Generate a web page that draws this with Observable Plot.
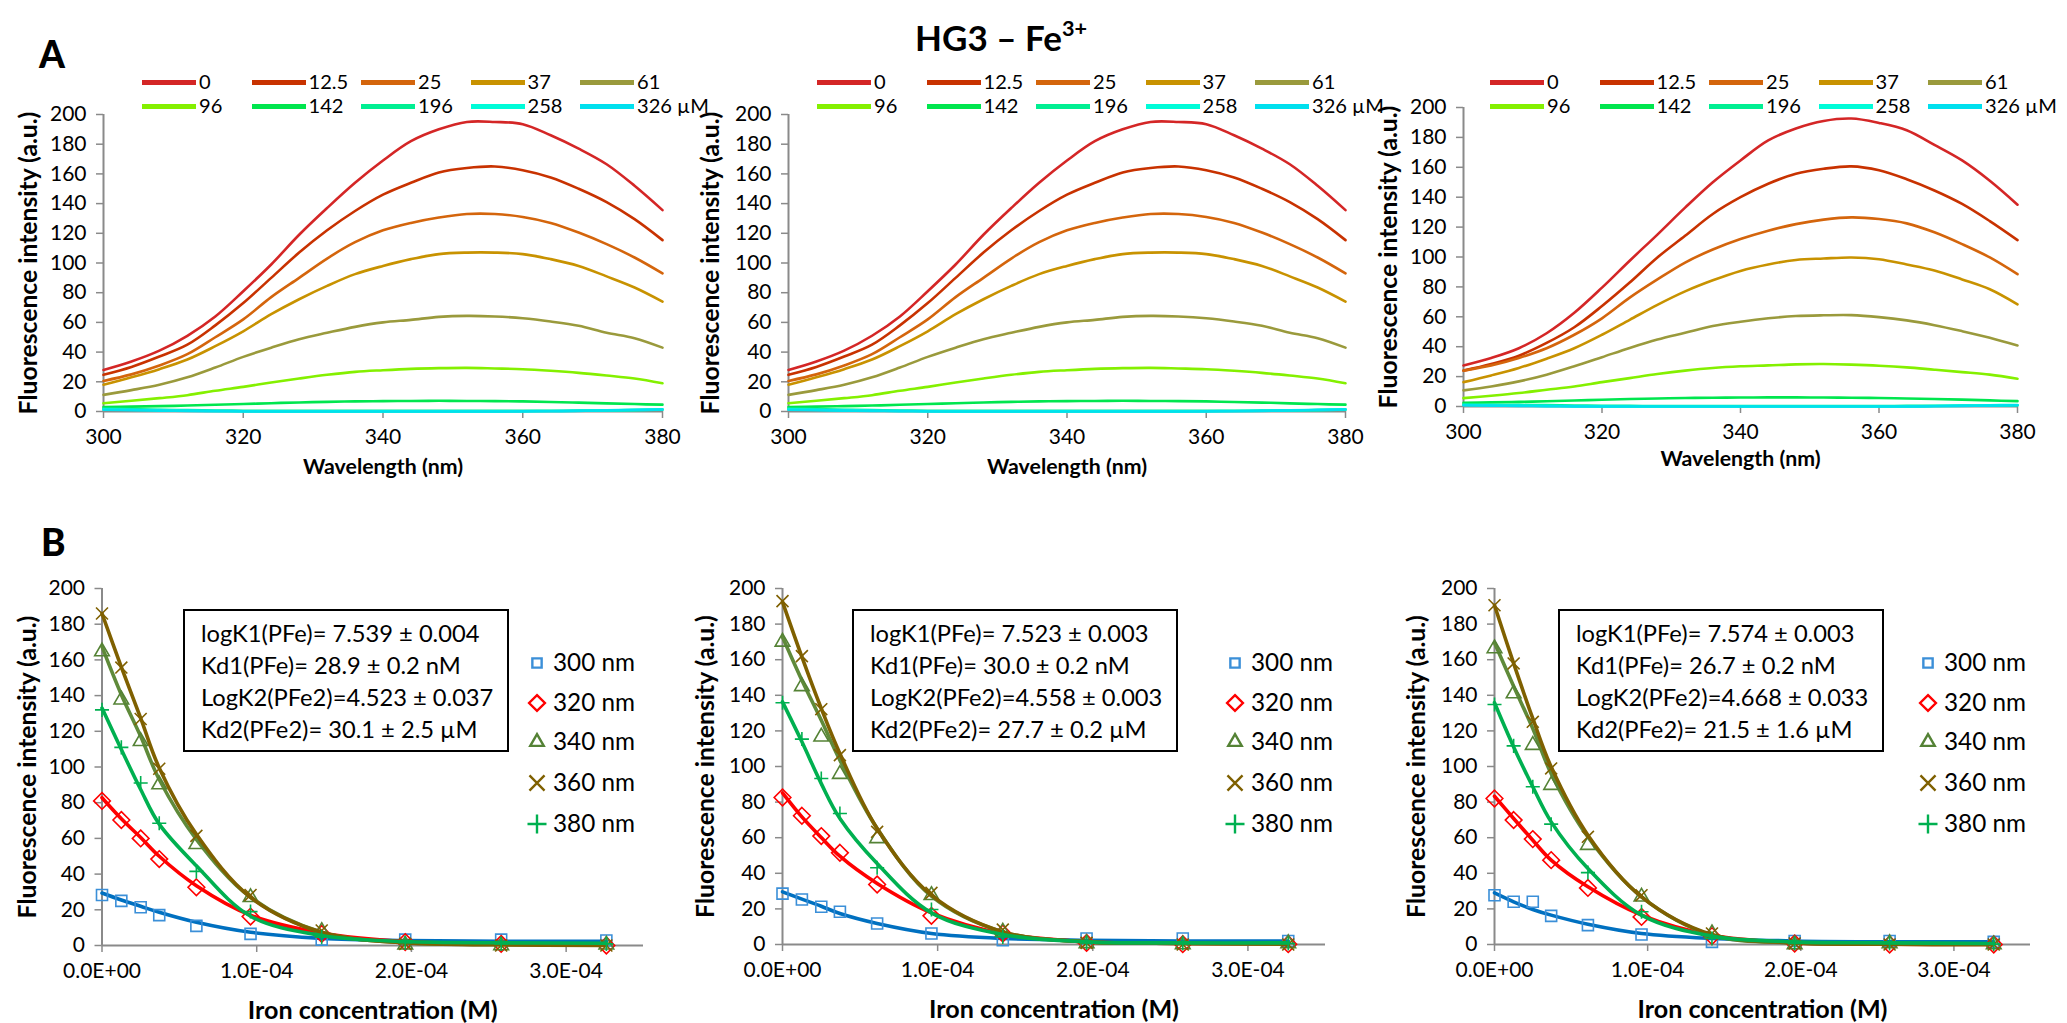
<!DOCTYPE html>
<html><head><meta charset="utf-8">
<script src="https://cdn.jsdelivr.net/npm/d3@7"></script>
<script src="https://cdn.jsdelivr.net/npm/@observablehq/plot@0.6"></script>
<style>
body{margin:0;background:#fff;font-family:Lato,sans-serif;color:#000;}
#root{position:relative;width:2067px;height:1023px;overflow:hidden;background:#fff;}
.abs{position:absolute;white-space:nowrap;}
.box{position:absolute;border:2px solid #000;box-sizing:border-box;line-height:32px;white-space:nowrap;}
</style></head><body><div id="root"></div>
<script>
// ---------- DATA ----------
const WL = [300,304,308,312,316,320,324,328,332,336,340,344,348,352,356,360,364,368,372,376,380];
const WL_TICKS = [300,320,340,360,380];
const Y_TICKS = [0,20,40,60,80,100,120,140,160,180,200];
const CONC_LABELS = ["0","12.5","25","37","61","96","142","196","258","326 µM"];
const SPEC_COLORS = ["#d42626","#c83200","#d4650c","#c89200","#9a9a3c","#84f000","#00e64e","#00ef92","#00fcd8","#00e0ee"];

// Panel A1 spectra (one array per Fe concentration)
const A1_0   = [28,33.7,41,51,64,81,99,119,137,154,169,182,190,195,195,193.5,186,177,166.5,152,135.6];
const A1_12  = [24.7,30,37,45,58,73,90,107,122,135,146,154,161,164,165,162.5,157.6,150,141,129.5,115.4];
const A1_25  = [20.6,25,31,38.6,50,62,77,90,103,114,122,127,130.6,133,133,131,127,120.5,112.7,103.7,93];
const A1_37  = [18,23,28.5,35,44,54,65.5,75.6,84.6,92.5,98,102.6,106,107,107,106,102.6,98,91,83.5,74];
const A1_61  = [11.2,14.4,18,23,29.6,36.8,43,48.7,53,57,60,61.7,63.7,64.4,64,62.8,60.6,57.7,53,49.4,43];
const A1_96  = [5.6,7.2,9,11,14,16.6,19.5,22.2,24.7,26.7,27.8,28.7,29.2,29.4,29,28.5,27.4,26,24.2,22.2,19];
const A1_142 = [3,3.3,3.6,4,4.5,5,5.6,6.1,6.5,6.8,7,7.1,7.2,7.1,7,6.8,6.4,6,5.5,5,4.6];
const A1_196 = [2,1.6,1.2,0.9,0.7,0.5,0.4,0.4,0.4,0.4,0.4,0.4,0.4,0.4,0.4,0.5,0.5,0.6,0.7,0.9,1.2];
const A1_258 = [1.5,1.2,0.9,0.6,0.4,0.2,0.1,0.1,0.1,0.1,0.1,0.1,0.1,0.1,0.1,0.2,0.3,0.5,0.8,1.1,1.5];
const A1_326 = [1.2,0.9,0.6,0.4,0.2,0.1,0,0,0,0,0,0,0,0,0,0.1,0.2,0.4,0.7,1,1.3];

// Panel A2 shows the same spectra as A1
const A2_0 = A1_0, A2_12 = A1_12, A2_25 = A1_25, A2_37 = A1_37, A2_61 = A1_61;
const A2_96 = A1_96, A2_142 = A1_142, A2_196 = A1_196, A2_258 = A1_258, A2_326 = A1_326;

// Panel A3 spectra
const A3_0   = [27.5,32.5,39,49,62.7,79.5,97.5,115,133,150,164.6,178,186,191,192.6,189.7,184.8,175,164.6,151,135];
const A3_12  = [24,28.4,34,42.5,53,67.2,82.9,99.7,114.2,128.8,140,149,155.7,159,160.6,158,152,144.5,135.5,124,111.3];
const A3_25  = [24,27.5,32.5,39,48,59,72.8,85,96.3,105,112,117.6,122,125,126.5,125.4,122.5,116.5,108.6,99.7,88.5];
const A3_37  = [16.3,20.8,25.8,32,39,48,58,68,77,84.4,90.7,95,98,99,99.7,98.5,95,91,85,78.4,68.3];
const A3_61  = [10.8,13.4,16.8,21.3,26.9,33,39.2,44.8,49.3,53.8,56.7,59,60.5,61,61.1,59.8,57.6,54.4,50.4,46,40.8];
const A3_96  = [5.6,7.2,9,11.2,13.4,16.3,19,21.7,24,25.8,26.9,27.5,28.2,28.4,28,27.3,26.2,24.6,23,21.3,18.6];
const A3_142 = [2.5,2.8,3.1,3.5,4,4.5,5,5.4,5.7,5.9,6,6.1,6.1,6,5.9,5.7,5.4,5,4.6,4.1,3.6];
const A3_196 = [1.5,1.3,1.1,0.9,0.7,0.5,0.4,0.3,0.3,0.3,0.3,0.3,0.3,0.3,0.3,0.3,0.4,0.5,0.6,0.7,0.8];
const A3_258 = [1,0.8,0.6,0.4,0.2,0.1,0,0,0,0,0,0,0,0,0,0,0.1,0.3,0.5,0.8,1];
const A3_326 = [0.8,0.6,0.4,0.2,0.1,0,0,0,0,0,0,0,0,0,0,0,0,0.2,0.4,0.6,0.8];

// Titration (panel B): iron concentration in µM
const CONC_UM = [0,12.5,25,37,61,96,142,196,258,326];
const X_TICKS = [0,1e-4,2e-4,3e-4];
const WAVES = ["300 nm","320 nm","340 nm","360 nm","380 nm"];
const LINE_COLORS = ["#0070c0","#ff0000","#5f8a3a","#7f6000","#00b050"];
const MARK_COLORS = ["#3b8fd8","#ff0000","#548235","#7f6000","#00b050"];
const SYMBOLS = ["square2","diamond2","triangle2","times","plus"];
const SYM_R = [7,7.5,7,5.5,4.6];

const B1_obs300=[28.3,25,21.4,17,11,6.5,3.3,3.3,3.3,2.8],   B1_fit300=[29.4,25.5,22,18.6,13,7.4,4,2.8,2.4,2.4];
const B1_obs320=[81,70.3,60,48.4,32.6,16.2,6.5,1.9,0.9,0],  B1_fit320=[82.8,71,60.5,50,33.5,17,7,2.2,1,0.4];
const B1_obs340=[164.7,137.7,114.4,90.2,56.7,27,8,0.4,0,0.4], B1_fit340=[167.4,140.5,117.2,93,59.5,27,7.4,1.5,0.6,0.4];
const B1_obs360=[186,155.7,126.9,99,61.4,28.3,8.4,0.9,0,0], B1_fit360=[186,156,127.4,99.5,62.3,27,7.4,1.5,0.4,0];
const B1_obs380=[132,111,91,68.5,41.5,19,4.7,1.5,0.9,0.9],  B1_fit380=[133,109.8,87.4,68,44.7,16.4,5.6,2.2,1.5,1.3];

const B2_obs300=[28.6,25.3,21.2,18.4,11.8,6.2,2.4,3.4,3.4,2], B2_fit300=[29.6,25.5,21.5,17.4,11.8,6.2,3.4,2.4,2,2];
const B2_obs320=[82.6,72.3,60.9,51.5,33.7,16.1,6.2,0.9,0.2,0.2], B2_fit320=[85.2,71.7,60.1,49.6,34.3,17.8,6.2,1.5,0.6,0.2];
const B2_obs340=[170,145,116.7,95.7,59.6,27.7,7.1,0.6,0,0.6], B2_fit340=[172.8,148.5,126,103.6,65.2,27.2,7.1,1.5,0.6,0.2];
const B2_obs360=[192.9,162,132.2,106.4,63.3,29,8.4,0.9,0,0], B2_fit360=[192.5,161.6,132.6,107.3,65.2,27.7,7.1,1.5,0.6,0.2];
const B2_obs380=[135.8,115.4,93.3,73.6,43.1,19.7,4.3,0.9,0.6,0.6], B2_fit380=[136.3,113.9,90.4,70.8,45.5,17.8,5.6,1.5,0.9,0.9];

const B3_obs300=[27.7,24,24,16.1,10.9,5.6,1.5,2,2,1.5], B3_fit300=[29,24,19.7,16.5,11.4,6.2,3.4,2,1.5,1.5];
const B3_obs320=[82,69.9,59.2,47.4,31.8,15.5,4.7,0.6,0,0], B3_fit320=[83.3,70.8,58.6,47.4,32.4,16.5,5.2,0.9,0.2,0];
const B3_obs340=[166.3,141,112,89.5,55.8,26.8,6.2,0,0.6,0], B3_fit340=[169.5,145.1,121.3,96,60.4,26.8,5.2,0.9,0.2,0];
const B3_obs360=[190.6,157.9,125.1,98.9,60.5,27.7,6.2,0.6,0,0], B3_fit360=[190.6,157.9,127,99.8,61.4,26.8,5.6,0.9,0.2,0];
const B3_obs380=[134.8,111.6,88.6,67.6,40.4,18.4,3.4,0.6,0.6,0.2], B3_fit380=[135.8,111,88.6,68.9,42.7,16.5,4.7,1.5,0.9,0.6];

const FIT_TEXT_1 = ["logK1(PFe)= 7.539 ± 0.004","Kd1(PFe)= 28.9 ± 0.2  nM","LogK2(PFe2)=4.523 ± 0.037","Kd2(PFe2)= 30.1 ± 2.5 µM"];
const FIT_TEXT_2 = ["logK1(PFe)= 7.523 ± 0.003","Kd1(PFe)= 30.0 ± 0.2  nM","LogK2(PFe2)=4.558 ± 0.003","Kd2(PFe2)= 27.7 ± 0.2 µM"];
const FIT_TEXT_3 = ["logK1(PFe)= 7.574 ± 0.003","Kd1(PFe)= 26.7 ± 0.2  nM","LogK2(PFe2)=4.668 ± 0.033","Kd2(PFe2)= 21.5 ± 1.6 µM"];

// ---------- RENDER ----------
const root = document.getElementById("root");
const AXIS_GRAY = "#8a8a8a";
const FONT = "Lato, sans-serif";

// choose font sizes so that texts take the widths they have in the reference
const mctx = document.createElement("canvas").getContext("2d");
function fitFont(text, weight, target){ mctx.font = `${weight} 100px ${FONT}`; return +(100 * target / mctx.measureText(text).width).toFixed(1); }
const FS_TICK   = fitFont("0.0E+00", "normal", 78);
const FS_LEG    = fitFont("326 µM", "normal", 72);
const FS_BLEG   = fitFont("300 nm", "normal", 82);
const FS_BOX    = fitFont("LogK2(PFe2)=4.523 ± 0.037", "normal", 292);
const FS_YTITLE = fitFont("Fluorescence intensity (a.u.)", "bold", 304);
const FS_WL     = fitFont("Wavelength (nm)", "bold", 160);
const FS_IRON   = fitFont("Iron concentration (M)", "bold", 250);
const FS_TITLE  = fitFont("HG3 – Fe", "bold", 147);

function add(el, left, top){ el.style.position="absolute"; el.style.left=left+"px"; el.style.top=top+"px"; root.appendChild(el); return el; }
function div(html, cls, css){ const d=document.createElement("div"); d.className=cls||"abs"; d.innerHTML=html; if(css) Object.assign(d.style, css); return d; }
// place an HTML text so that its glyphs are vertically centred on y
function textAt(html, fs, x, y, extra){ return add(div(html, "abs", Object.assign({fontSize:fs+"px", lineHeight:fs+"px"}, extra||{})), x, y - 0.53*fs); }

function margins(c){
  return {width:c.w, height:c.h, marginLeft:c.fx0-c.left, marginRight:c.left+c.w-c.fx1, marginTop:c.fy0-c.top, marginBottom:c.top+c.h-c.fy1};
}

function spectraPanel(c, series){
  const marks = [
    Plot.ruleX([300], {stroke:AXIS_GRAY, strokeWidth:2}),
    Plot.ruleY([0], {stroke:AXIS_GRAY, strokeWidth:2}),
    Plot.axisY({ticks:Y_TICKS, tickSize:7, tickPadding:10, fontSize:FS_TICK, stroke:AXIS_GRAY, strokeWidth:1.5, fill:"#000", label:null}),
    Plot.axisX({ticks:WL_TICKS, tickSize:7, tickPadding:11, fontSize:FS_TICK, stroke:AXIS_GRAY, strokeWidth:1.5, fill:"#000", label:null})
  ];
  series.forEach((vals, i) => {
    const d = vals.map((v, j) => ({wl: WL[j], v}));
    marks.push(Plot.line(d, {x:"wl", y:"v", stroke:SPEC_COLORS[i], strokeWidth:2.6, curve:"catmull-rom"}));
  });
  marks.push(Plot.text(["Fluorescence intensity (a.u.)"], {frameAnchor:"left", textAnchor:"middle", lineAnchor:"middle", rotate:-90, dx:c.ydx, fontSize:FS_YTITLE, fontWeight:"bold"}));
  marks.push(Plot.text(["Wavelength (nm)"], {frameAnchor:"bottom", textAnchor:"middle", lineAnchor:"middle", dy:c.tdy, fontSize:FS_WL, fontWeight:"bold"}));
  const p = Plot.plot({...margins(c), x:{domain:[300,380]}, y:{domain:[0,200]},
    style:{fontFamily:FONT, background:"transparent", overflow:"visible", color:"#000"}, marks});
  add(p, c.left, c.top);
  // legend
  CONC_LABELS.forEach((lab, i) => {
    const col = i % 5, row = Math.floor(i / 5);
    const x = c.legX + col * 109.5, y = c.legY + row * 24;
    add(div("", "abs", {width:"54px", height:"5px", background:SPEC_COLORS[i]}), x, y - 2.5);
    textAt(lab, FS_LEG, x + 57, y);
  });
}

function titrationPanel(c, obs, fit, text){
  const fmt = d => d === 0 ? "0.0E+00" : (d / 1e-4).toFixed(1) + "E-04";
  const marks = [
    Plot.ruleX([0], {stroke:AXIS_GRAY, strokeWidth:2}),
    Plot.ruleY([0], {stroke:AXIS_GRAY, strokeWidth:2}),
    Plot.axisY({ticks:Y_TICKS, tickSize:7, tickPadding:10, fontSize:FS_TICK, stroke:AXIS_GRAY, strokeWidth:1.5, fill:"#000", label:null}),
    Plot.axisX({ticks:X_TICKS, tickFormat:fmt, tickSize:7, tickPadding:11, fontSize:FS_TICK, stroke:AXIS_GRAY, strokeWidth:1.5, fill:"#000", label:null})
  ];
  WAVES.forEach((w, i) => {
    const f = fit[i].map((v, j) => ({x: CONC_UM[j] * 1e-6, y: v}));
    const o = obs[i].map((v, j) => ({x: CONC_UM[j] * 1e-6, y: v}));
    marks.push(Plot.line(f, {x:"x", y:"y", stroke:LINE_COLORS[i], strokeWidth:3.6, curve:"catmull-rom"}));
    marks.push(Plot.dot(o, {x:"x", y:"y", symbol:SYMBOLS[i], r:SYM_R[i], stroke:MARK_COLORS[i], strokeWidth:1.6, fill:"none"}));
  });
  marks.push(Plot.text(["Fluorescence intensity (a.u.)"], {frameAnchor:"left", textAnchor:"middle", lineAnchor:"middle", rotate:-90, dx:c.ydx, fontSize:FS_YTITLE, fontWeight:"bold"}));
  marks.push(Plot.text(["Iron concentration (M)"], {frameAnchor:"bottom", textAnchor:"middle", lineAnchor:"middle", dy:65, fontSize:FS_IRON, fontWeight:"bold"}));
  const p = Plot.plot({...margins(c), x:{domain:[0,3.5e-4]}, y:{domain:[0,200]},
    style:{fontFamily:FONT, background:"transparent", overflow:"visible", color:"#000"}, marks});
  add(p, c.left, c.top);
  // fit-parameter box
  add(div(text.join("<br>"), "box", {width:c.boxW+"px", height:"143px", fontSize:FS_BOX+"px", padding:"6px 0 0 16px"}), c.boxX, 609);
  // marker legend
  const rows = [663, 703, 742, 783, 824];
  const symFns = [d3.symbolSquare2, d3.symbolDiamond2, d3.symbolTriangle2, d3.symbolTimes, d3.symbolPlus];
  const sizes = [110, 160, 130, 150, 120];
  WAVES.forEach((w, i) => {
    const path = d3.symbol(symFns[i], sizes[i])();
    const s = div(`<svg width="26" height="26" viewBox="-13 -13 26 26"><path d="${path}" fill="none" stroke="${MARK_COLORS[i]}" stroke-width="2.4"/></svg>`, "abs");
    add(s, c.legX - 13, rows[i] - 13);
    textAt(w, FS_BLEG, c.legX + 16, rows[i]);
  });
}

// Title and panel letters (baseline of title at y≈42)
add(div(`HG3 – Fe<sup style="font-size:${(FS_TITLE*0.62).toFixed(1)}px;vertical-align:${(FS_TITLE*0.42).toFixed(1)}px">3+</sup>`, "abs",
  {fontSize:FS_TITLE+"px", fontWeight:"bold", lineHeight:FS_TITLE+"px"}), 915, 42 - 0.887*FS_TITLE);
add(div("A", "abs", {fontSize:"37px", fontWeight:"900", lineHeight:"37px"}), 39, 68 - 0.887*37);
add(div("B", "abs", {fontSize:"37px", fontWeight:"900", lineHeight:"37px"}), 41, 556 - 0.887*37);

spectraPanel({left:0, top:95, w:690, h:390, fx0:103, fx1:662, fy0:114, fy1:411, tdy:56, ydx:-74, legX:142, legY:82},
  [A1_0,A1_12,A1_25,A1_37,A1_61,A1_96,A1_142,A1_196,A1_258,A1_326]);
spectraPanel({left:690, top:95, w:680, h:390, fx0:788, fx1:1345, fy0:114, fy1:411, tdy:56, ydx:-77, legX:817, legY:82},
  [A2_0,A2_12,A2_25,A2_37,A2_61,A2_96,A2_142,A2_196,A2_258,A2_326]);
spectraPanel({left:1370, top:90, w:697, h:390, fx0:1463, fx1:2017, fy0:107, fy1:406, tdy:53, ydx:-74, legX:1490, legY:82},
  [A3_0,A3_12,A3_25,A3_37,A3_61,A3_96,A3_142,A3_196,A3_258,A3_326]);

titrationPanel({left:0, top:570, w:690, h:453, fx0:101.5, fx1:643, fy0:588, fy1:945, ydx:-74, boxX:183, boxW:326, legX:537},
  [B1_obs300,B1_obs320,B1_obs340,B1_obs360,B1_obs380], [B1_fit300,B1_fit320,B1_fit340,B1_fit360,B1_fit380], FIT_TEXT_1);
titrationPanel({left:690, top:570, w:690, h:453, fx0:782, fx1:1325, fy0:588, fy1:944, ydx:-76, boxX:852, boxW:326, legX:1235},
  [B2_obs300,B2_obs320,B2_obs340,B2_obs360,B2_obs380], [B2_fit300,B2_fit320,B2_fit340,B2_fit360,B2_fit380], FIT_TEXT_2);
titrationPanel({left:1380, top:570, w:687, h:453, fx0:1494, fx1:2030, fy0:588, fy1:944, ydx:-77, boxX:1558, boxW:326, legX:1928},
  [B3_obs300,B3_obs320,B3_obs340,B3_obs360,B3_obs380], [B3_fit300,B3_fit320,B3_fit340,B3_fit360,B3_fit380], FIT_TEXT_3);
</script></body></html>
